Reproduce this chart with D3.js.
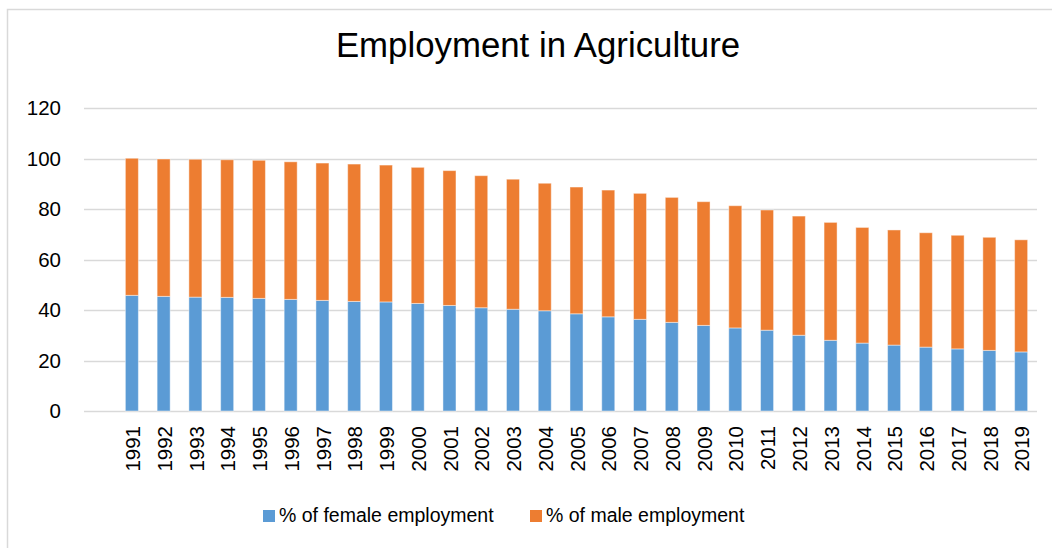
<!DOCTYPE html>
<html>
<head>
<meta charset="utf-8">
<script src="https://cdn.jsdelivr.net/npm/d3@7"></script>
<style>
  body { margin: 0; background: #fff; }
  svg { display: block; }
</style>
</head>
<body>
<svg id="chart" width="1052" height="548"></svg>
<script>
  // values
  const years = ['1991', '1992', '1993', '1994', '1995', '1996', '1997', '1998', '1999', '2000',
    '2001', '2002', '2003', '2004', '2005', '2006', '2007', '2008', '2009', '2010',
    '2011', '2012', '2013', '2014', '2015', '2016', '2017', '2018', '2019'];
  const female = [45.8, 45.4, 45.1, 45.0, 44.6, 44.2, 43.8, 43.4, 43.2, 42.6,
    41.8, 40.9, 40.3, 39.7, 38.5, 37.3, 36.3, 35.1, 33.9, 32.9,
    32.0, 30.0, 28.0, 26.9, 26.1, 25.3, 24.6, 24.0, 23.4];
  const male = [54.3, 54.4, 54.6, 54.5, 54.7, 54.5, 54.4, 54.4, 54.2, 53.9,
    53.4, 52.3, 51.5, 50.5, 50.2, 50.2, 49.9, 49.5, 49.0, 48.4,
    47.6, 47.2, 46.7, 45.8, 45.6, 45.3, 45.0, 44.8, 44.4];
  const yTicks = [0, 20, 40, 60, 80, 100, 120];
  const seriesNames = ['% of female employment', '% of male employment'];
  const colors = ['#5b9bd5', '#ed7d31'];

  const svg = d3.select('#chart');
  const font = '"Liberation Sans", Arial, sans-serif';
  const gridColor = '#d9d9d9';

  // chart frame (runs off the right and bottom edge in the reference)
  svg.append('rect')
    .attr('x', 7.5).attr('y', 9.5)
    .attr('width', 1100).attr('height', 600)
    .attr('fill', 'none')
    .attr('stroke', gridColor)
    .attr('stroke-width', 1.5);

  const plotLeft = 84, plotRight = 1037;

  const x = d3.scaleBand()
    .domain(years)
    .range([116, plotRight])
    .paddingInner(0.59)
    .paddingOuter(0.295);

  const y = d3.scaleLinear()
    .domain([0, 120])
    .range([411, 108]);

  // gridlines
  svg.append('g')
    .selectAll('line')
    .data(yTicks)
    .join('line')
    .attr('x1', plotLeft).attr('x2', plotRight)
    .attr('y1', d => Math.round(y(d)) + 0.5)
    .attr('y2', d => Math.round(y(d)) + 0.5)
    .attr('stroke', gridColor)
    .attr('stroke-width', d => d === 0 ? 1.6 : 1.3);

  // y tick labels
  svg.append('g')
    .selectAll('text')
    .data(yTicks)
    .join('text')
    .attr('x', 61)
    .attr('y', d => y(d))
    .attr('dy', '0.35em')
    .attr('text-anchor', 'end')
    .attr('font-family', font)
    .attr('font-size', 20.5)
    .attr('fill', '#000')
    .text(d => d);

  // stacked bars
  const rows = years.map((yr, i) => ({ year: yr, female: female[i], male: male[i] }));
  const stack = d3.stack().keys(['female', 'male'])(rows);

  svg.append('g')
    .selectAll('g')
    .data(stack)
    .join('g')
    .attr('fill', (d, i) => colors[i])
    .selectAll('rect')
    .data(d => d)
    .join('rect')
    .attr('x', d => x(d.data.year))
    .attr('width', x.bandwidth())
    .attr('y', d => y(d[1]))
    .attr('height', d => y(d[0]) - y(d[1]))
    .attr('stroke', '#fff')
    .attr('stroke-opacity', 0.45)
    .attr('stroke-width', 1);

  // x tick labels, rotated
  svg.append('g')
    .selectAll('text')
    .data(years)
    .join('text')
    .attr('transform', d => 'translate(' + (x(d) + x.bandwidth() / 2 + 1) + ',426) rotate(-90)')
    .attr('dy', '0.35em')
    .attr('text-anchor', 'end')
    .attr('font-family', font)
    .attr('font-size', 20.5)
    .attr('fill', '#000')
    .text(d => d);

  // title
  svg.append('text')
    .attr('x', 538)
    .attr('y', 57)
    .attr('text-anchor', 'middle')
    .attr('font-family', font)
    .attr('font-size', 34.8)
    .attr('fill', '#000')
    .text('Employment in Agriculture');

  // legend
  const legendX = [263, 530];
  const legend = svg.append('g')
    .selectAll('g')
    .data(seriesNames)
    .join('g')
    .attr('transform', (d, i) => 'translate(' + legendX[i] + ',0)');

  legend.append('rect')
    .attr('x', 0).attr('y', 510)
    .attr('width', 12).attr('height', 12)
    .attr('fill', (d, i) => colors[i]);

  legend.append('text')
    .attr('x', 16)
    .attr('y', 522)
    .attr('font-family', font)
    .attr('font-size', 19.5)
    .attr('fill', '#000')
    .text(d => d);
</script>
</body>
</html>
